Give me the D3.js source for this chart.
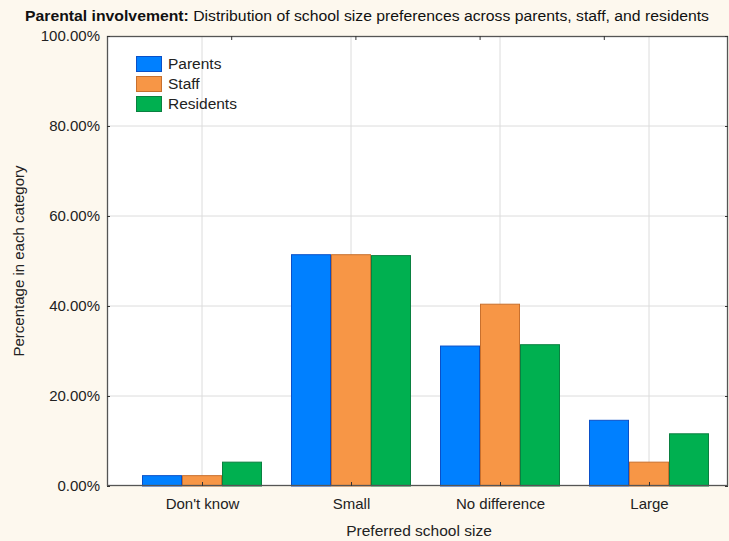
<!DOCTYPE html>
<html><head><meta charset="utf-8">
<script src="https://cdn.jsdelivr.net/npm/d3@7"></script>
<style>body{margin:0;background:#FDF8EE;} svg{display:block;}</style>
</head><body>
<svg id="c" width="729" height="541"></svg>
<script>
const categories = ["Don't know", "Small", "No difference", "Large"];
const seriesNames = ["Parents", "Staff", "Residents"];
const parents = [2.3, 51.4, 31.1, 14.6];
const staff = [2.3, 51.4, 40.4, 5.3];
const residents = [5.3, 51.2, 31.4, 11.6];
const yTicks = [0, 20, 40, 60, 80, 100];
const fills = ["#0080FF", "#F79646", "#00B050"];
const strokes = ["#0A50C8", "#C8702E", "#0A8040"];

const series = [parents, staff, residents];
const svg = d3.select("#c");
const font = "'Liberation Sans', Arial, sans-serif";
const L = 107, R = 728, T = 36, B = 486;

svg.append("rect").attr("width", 729).attr("height", 541).attr("fill", "#FDF8EE");
svg.append("rect").attr("x", L).attr("y", T).attr("width", R - L).attr("height", B - T).attr("fill", "#fff");

const y = d3.scaleLinear().domain([0, 100]).range([B, T]);
const x = d3.scalePoint().domain(categories).range([202, 649]);
const inner = d3.scaleBand().domain(seriesNames).range([-60, 60]);
const topScale = d3.scaleLinear().domain([0, 5]).range([L, R]);

// grid
svg.append("g").selectAll("line").data(yTicks.filter(d => d > 0 && d < 100)).join("line")
  .attr("x1", L).attr("x2", R).attr("y1", d => y(d)).attr("y2", d => y(d))
  .attr("stroke", "#DCDCDC").attr("stroke-width", 1);
svg.append("g").selectAll("line").data(categories).join("line")
  .attr("x1", d => x(d)).attr("x2", d => x(d)).attr("y1", T).attr("y2", B)
  .attr("stroke", "#DCDCDC").attr("stroke-width", 1);

// bars
series.forEach((vals, si) => {
  svg.append("g").selectAll("rect").data(vals).join("rect")
    .attr("x", (d, i) => x(categories[i]) + inner(seriesNames[si]) + 0.5)
    .attr("y", d => y(d))
    .attr("width", inner.bandwidth() - 1)
    .attr("height", d => B - y(d))
    .attr("fill", fills[si]).attr("stroke", strokes[si]).attr("stroke-width", 1);
});

// frame
svg.append("rect").attr("x", L + 0.5).attr("y", T + 0.5).attr("width", R - L - 1).attr("height", B - T - 1)
  .attr("fill", "none").attr("stroke", "#555").attr("stroke-width", 1.3);

// axes
const yAxis = d3.axisLeft(y).tickValues(yTicks).tickSize(-3).tickPadding(7)
  .tickFormat(d => d.toFixed(2) + "%");
const gy = svg.append("g").attr("transform", `translate(${L},0)`).call(yAxis);
gy.select(".domain").remove();
gy.selectAll("text").attr("font-family", font).attr("font-size", 15).attr("fill", "#222");
gy.selectAll("line").attr("stroke", "#333");

const gr = svg.append("g").attr("transform", `translate(${R},0)`)
  .call(d3.axisRight(y).tickValues(yTicks).tickSize(-3).tickFormat(""));
gr.select(".domain").remove();
gr.selectAll("line").attr("stroke", "#333");

const xAxis = d3.axisBottom(x).tickSize(-4).tickPadding(12);
const gx = svg.append("g").attr("transform", `translate(0,${B})`).call(xAxis);
gx.select(".domain").remove();
gx.selectAll("text").attr("font-family", font).attr("font-size", 15).attr("fill", "#222")
  .attr("y", 23).attr("dy", 0);
gx.selectAll("line").attr("stroke", "#333");

const gt = svg.append("g").attr("transform", `translate(0,${T})`)
  .call(d3.axisTop(topScale).tickValues([1, 2, 3, 4]).tickSize(-4).tickFormat(""));
gt.select(".domain").remove();
gt.selectAll("line").attr("stroke", "#333");

// title
const title = svg.append("text").attr("x", 367).attr("y", 21).attr("text-anchor", "middle")
  .attr("font-family", font).attr("font-size", 15.5).attr("fill", "#111")
  .attr("textLength", 684).attr("lengthAdjust", "spacingAndGlyphs");
title.append("tspan").attr("font-weight", "bold").text("Parental involvement:");
title.append("tspan").text(" Distribution of school size preferences across parents, staff, and residents");

// axis titles
svg.append("text").attr("x", 419).attr("y", 536).attr("text-anchor", "middle")
  .attr("font-family", font).attr("font-size", 15.5).attr("fill", "#222").text("Preferred school size");
svg.append("text").attr("transform", "translate(24,261) rotate(-90)").attr("text-anchor", "middle")
  .attr("font-family", font).attr("font-size", 15).attr("fill", "#222").text("Percentage in each category");

// legend
const lg = svg.append("g").attr("transform", "translate(136,56)");
seriesNames.forEach((n, i) => {
  lg.append("rect").attr("x", 0.5).attr("y", i * 20 + 0.5).attr("width", 25).attr("height", 15)
    .attr("fill", fills[i]).attr("stroke", strokes[i]);
  lg.append("text").attr("x", 32).attr("y", i * 20 + 13).attr("font-family", font)
    .attr("font-size", 15.5).attr("fill", "#222").text(n);
});
</script>
</body></html>
